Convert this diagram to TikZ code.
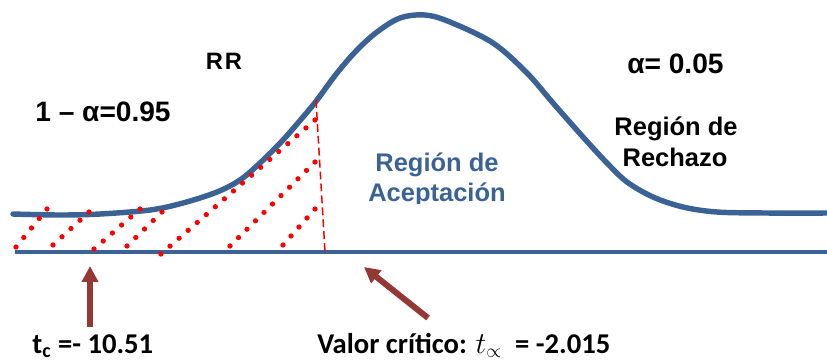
\documentclass[tikz,border=0pt]{standalone}
\usepackage{fontspec}
\setmainfont{Liberation Sans}
\newfontfamily\calibrifont{Carlito}
\usetikzlibrary{arrows.meta,calc}
\definecolor{curveblue}{HTML}{3A6295}
\definecolor{arrowred}{HTML}{953735}
\begin{document}
\begin{tikzpicture}[x=0.02cm,y=-0.02cm,
  curve/.style={color=curveblue,line width=3.1pt,line cap=round},
  axis/.style={color=curveblue,line width=2.3pt},
  reddot/.style={fill=red},
  critline/.style={color=red,line width=0.85pt,dash pattern=on 4.5pt off 2.3pt},
  redarrow/.style={color=arrowred,line width=3.4pt,-{Triangle[width=9pt,length=9pt]}},
  bigtxt/.style={font=\bfseries\fontsize{16}{19}\selectfont},
  midtxt/.style={font=\bfseries\fontsize{14.5}{17}\selectfont},
  lowtxt/.style={font=\calibrifont\bfseries\fontsize{16.3}{19}\selectfont}]
  \useasboundingbox (0,0) rectangle (827,360);

% CURVE AND AXIS ==============================================================
  \draw[curve] plot[smooth,tension=0.55] coordinates {
    (13,214) (60,215) (100,214) (150,210) (183,203) (217,192) (240,180)
    (260,163) (283,140) (303,117) (317,100) (337,73) (357,50) (377,32)
    (400,18) (425,15) (450,22) (493,43) (527,73) (553,103) (583,137)
    (607,163) (627,182) (653,197) (683,207) (717,212) (767,213) (827,213)};
  \draw[axis] (15,252) to (827,252);

% DOTTED REGION ===============================================================
  \foreach \xa/\ya/\xb/\yb/\n in {16/247/47/209/5, 53/245/89/212/5,
      94/249/140/209/6, 127/246/162/212/5, 161/254/315/120/18,
      230/246/315/162/11, 283/245/315/209/5} {
    \foreach \i in {1,...,\n} {
      \fill[reddot] ($(\xa,\ya)!{(\i-1)/(\n-1)}!(\xb,\yb)$) circle[radius=1.5pt];
    }
  }

% CRITICAL VALUE ==============================================================
  \coordinate (crittop) at (316,100);
  \coordinate (critfoot) at (325,252);
  \draw[critline] (crittop) to (critfoot);

% LABELS ======================================================================
  \node[anchor=base,font=\bfseries\fontsize{13.5}{15}\selectfont] (rr) at (224,69) {R\kern1pt R};
  \node[bigtxt,anchor=base west,inner sep=0pt] (conf) at (35,121) {1 – α=0.95};
  \node[bigtxt,anchor=base west,inner sep=0pt] (alpha) at (627,73) {α= 0.05};
  \node[midtxt,anchor=base,inner sep=0pt] (rechA) at (676,135) {Región de};
  \node[midtxt,anchor=base,inner sep=0pt] (rechB) at (675,166) {Rechazo};
  \begin{scope}
    \clip (340,130) rectangle (540,203);
    \node[midtxt,anchor=base,inner sep=0pt,text=curveblue] (aceptA) at (437,171) {Región de};
    \node[midtxt,anchor=base,inner sep=0pt,text=curveblue] (aceptB) at (437,201) {Aceptación};
  \end{scope}

% BOTTOM LABELS AND ARROWS ====================================================
  \node[lowtxt,anchor=base west,inner sep=0pt] (tc) at (32,353) {t\textsubscript{c} =- 10.51};
  \node[lowtxt,anchor=base west,inner sep=0pt] (crit) at (317,353) {Valor crítico: $t_{\propto}$\ \ = -2.015};
  \coordinate (tcfoot) at (90,327);
  \coordinate (tctip) at (90,266);
  \coordinate (critfrom) at (428,318);
  \coordinate (critto) at (364,267);
  \draw[redarrow] (tcfoot) to (tctip);
  \draw[redarrow] (critfrom) to (critto);
\end{tikzpicture}
\end{document}
